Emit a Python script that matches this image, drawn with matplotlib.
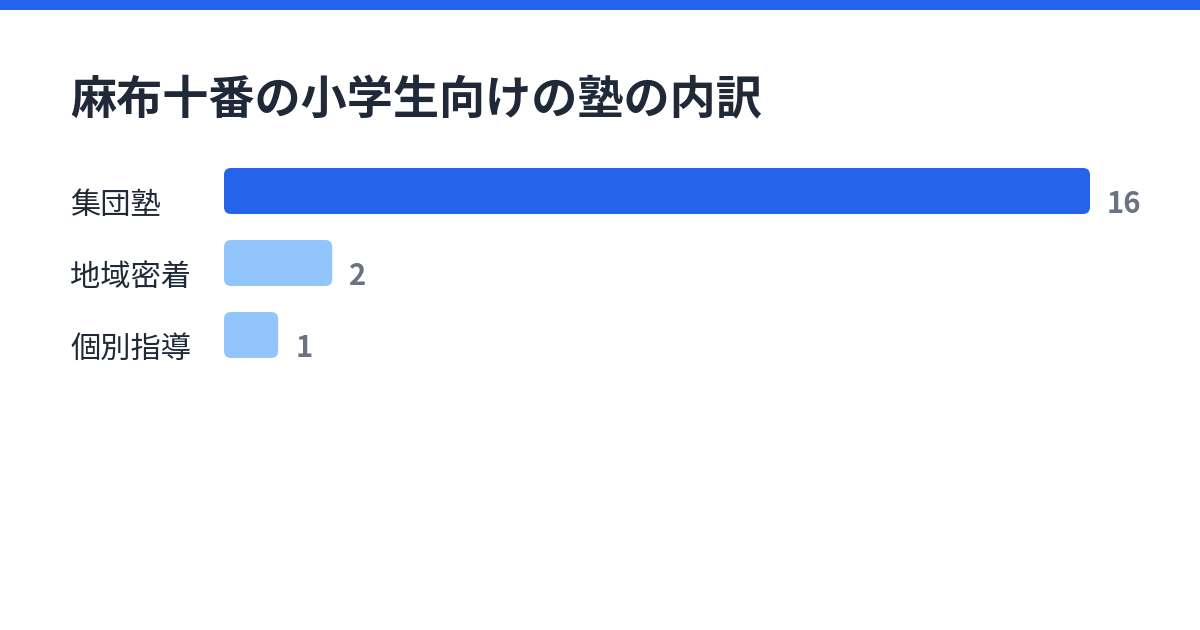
import matplotlib
matplotlib.use("Agg")
import matplotlib.pyplot as plt
from matplotlib.patches import FancyBboxPatch, Rectangle
import matplotlib.transforms as mtransforms

plt.rcParams["font.family"] = ["Noto Sans CJK JP", "DejaVu Sans"]

title = "麻布十番の小学生向けの塾の内訳"
categories = ["集団塾", "地域密着", "個別指導"]
counts = [16, 2, 1]
bar_colors = ["#2563EB", "#93C5FD", "#93C5FD"]

W, H, DPI = 1200, 630, 100
fig = plt.figure(figsize=(W / DPI, H / DPI), dpi=DPI)
fig.patch.set_facecolor("white")

# top accent band
fig.add_artist(Rectangle((0, 1 - 10 / H), 1, 10 / H, transform=fig.transFigure,
                         facecolor="#2563EB", edgecolor="none"))

fig.text(70 / W, 1 - 114 / H, title, fontsize=33.2, fontweight="bold",
         color="#1F2937", va="baseline", ha="left")

# axes: x 0..16 spans px 224..1090, rows every 72px centred at 191
left_px, right_px = 224, 1090
top_px, bot_px = 155, 371
ax = fig.add_axes([left_px / W, 1 - bot_px / H, (right_px - left_px) / W,
                   (bot_px - top_px) / H])
ax.set_xlim(0, max(counts))
ax.set_ylim(len(categories) - 0.5, -0.5)
ax.axis("off")

bar_h = 46 / 72
bars = ax.barh(range(len(categories)), counts, height=bar_h, color=bar_colors)

px_x = (right_px - left_px) / max(counts)
px_y = 72.0
r_px = 7
for rect, c in zip(bars, bar_colors):
    x, y = rect.get_x(), rect.get_y()
    w, h = rect.get_width(), rect.get_height()
    rect.remove()
    r = r_px / px_x
    patch = FancyBboxPatch((x + r, y + r * px_x / px_y), w - 2 * r,
                           h - 2 * r * px_x / px_y,
                           boxstyle=f"round,pad={r},rounding_size={r}",
                           mutation_aspect=px_x / px_y,
                           facecolor=c, edgecolor="none")
    ax.add_patch(patch)

for i, (cat, v) in enumerate(zip(categories, counts)):
    # category label at left margin
    trans = mtransforms.blended_transform_factory(fig.transFigure, ax.transData)
    ax.text(70 / W, i, cat, transform=trans + mtransforms.ScaledTranslation(0, -23 / DPI, fig.dpi_scale_trans),
            fontsize=21.8, color="#1F2937", va="baseline", ha="left")
    ax.text(v, i, str(v),
            transform=ax.transData + mtransforms.ScaledTranslation(17 / DPI, -22 / DPI, fig.dpi_scale_trans),
            fontsize=21, fontweight="bold", color="#6B7280", va="baseline", ha="left")

fig.savefig("out.png", dpi=DPI)
